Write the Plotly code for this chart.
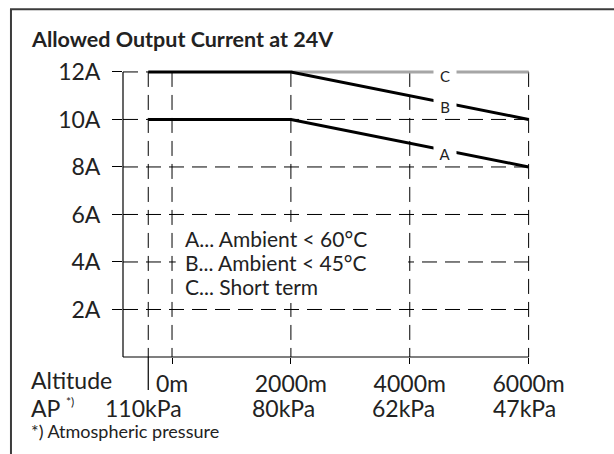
import numpy as np
import plotly.graph_objects as go

# ---------------- data ----------------
altitude_ticks = [0, 2000, 4000, 6000]
altitude_labels = ["0m", "2000m", "4000m", "6000m"]
pressure_labels = ["110kPa", "80kPa", "62kPa", "47kPa"]
current_ticks = [2, 4, 6, 8, 10, 12]
current_labels = ["2A", "4A", "6A", "8A", "10A", "12A"]
grid_x = [-400, 0, 2000, 4000, 6000]
curve_x = [-400, 2000, 6000]
curve_a = [10, 10, 8]
curve_b = [12, 12, 10]
curve_c_x = [2000, 6000]
curve_c = [12, 12]
curve_names = ["A", "B", "C"]
legend_lines = ["A... Ambient < 60°C", "B... Ambient < 45°C", "C... Short term"]
title_text = "Allowed Output Current at 24V"
footnote_text = "*) Atmospheric pressure"

# ---------------- layout constants (pixels) ----------------
W, H = 614, 454
L, R, T, B = 123.35, 530.7, 65.76, 357.0
X_RANGE = [-825, 6040]
Y_RANGE = [0, 12.25]
FONT = "Lato"
TXT = "#222222"
DASH = "15px,8px"


def px_x(p):
    return (p - L) / (R - L)


def px_y(p):
    return (B - p) / (B - T)


fig = go.Figure()

fig.add_trace(go.Scatter(x=curve_c_x, y=curve_c, mode="lines",
                         line=dict(color="#a6a6a6", width=3), hoverinfo="skip"))
fig.add_trace(go.Scatter(x=curve_x, y=curve_b, mode="lines",
                         line=dict(color="black", width=3), hoverinfo="skip"))
fig.add_trace(go.Scatter(x=curve_x, y=curve_a, mode="lines",
                         line=dict(color="black", width=3), hoverinfo="skip"))

shapes = []
# outer frame
shapes.append(dict(type="rect", xref="paper", yref="paper",
                   x0=px_x(11.5), x1=px_x(700), y0=px_y(9), y1=px_y(700),
                   line=dict(color="#3c3c3c", width=2), fillcolor="rgba(0,0,0,0)",
                   layer="below"))
# horizontal dashed grid
for v in current_ticks:
    shapes.append(dict(type="line", xref="x", yref="y", x0=X_RANGE[0], x1=grid_x[-1],
                       y0=v, y1=v, layer="below",
                       line=dict(color="black", width=1, dash=DASH)))
# vertical dashed grid
for g in grid_x:
    shapes.append(dict(type="line", xref="x", yref="y", x0=g, x1=g,
                       y0=current_ticks[-1], y1=0, layer="below",
                       line=dict(color="black", width=1, dash=DASH)))
# axis lines
shapes.append(dict(type="line", xref="paper", yref="y", x0=0, x1=0, y0=0, y1=current_ticks[-1],
                   line=dict(color="black", width=1.2), layer="below"))
shapes.append(dict(type="line", xref="x", yref="paper", x0=X_RANGE[0], x1=grid_x[-1], y0=0, y1=0,
                   line=dict(color="black", width=1.2), layer="below"))
# separator below axis
shapes.append(dict(type="line", xref="x", yref="paper", x0=grid_x[0], x1=grid_x[0],
                   y0=0, y1=px_y(390), line=dict(color="black", width=1.2), layer="below"))
# white box behind legend text
shapes.append(dict(type="rect", xref="paper", yref="paper",
                   x0=px_x(176), x1=px_x(408), y0=px_y(303), y1=px_y(222),
                   line=dict(width=0), fillcolor="white", layer="above"))

ann = []
ann.append(dict(text="<b>" + title_text + "</b>", xref="paper", yref="paper",
                x=px_x(29.5), y=px_y(38.3), xanchor="left", yanchor="middle",
                showarrow=False, font=dict(family=FONT, size=21.5, color=TXT)))
for i, txt in enumerate(legend_lines):
    ann.append(dict(text=txt, xref="paper", yref="paper", x=px_x(183), y=px_y(238 + 24 * i),
                    xanchor="left", yanchor="middle", showarrow=False,
                    font=dict(family=FONT, size=21, color=TXT)))
# curve labels
label_x = 4600
for name, xs, ys in zip(curve_names, [curve_x, curve_x, curve_c_x], [curve_a, curve_b, curve_c]):
    ann.append(dict(text=name, xref="x", yref="y", x=label_x, y=float(np.interp(label_x, xs, ys)),
                    yshift=-4, showarrow=False, bgcolor="white", width=20, height=16, borderpad=1,
                    font=dict(family=FONT, size=15, color=TXT)))
# pressure row
p_shift = [-29, -7, -6, -4]
for xv, lab, sh in zip(altitude_ticks, pressure_labels, p_shift):
    ann.append(dict(text=lab, xref="x", yref="paper", x=xv, xshift=sh, y=px_y(408),
                    xanchor="center", yanchor="middle", showarrow=False,
                    font=dict(family=FONT, size=23, color=TXT)))
ann.append(dict(text="Altitude", xref="paper", yref="paper", x=px_x(29.5), y=px_y(380),
                xanchor="left", yanchor="middle", showarrow=False,
                font=dict(family=FONT, size=23, color=TXT)))
ann.append(dict(text="AP", xref="paper", yref="paper", x=px_x(29.5), y=px_y(408),
                xanchor="left", yanchor="middle", showarrow=False,
                font=dict(family=FONT, size=23, color=TXT)))
ann.append(dict(text="*)", xref="paper", yref="paper", x=px_x(64), y=px_y(402),
                xanchor="left", yanchor="middle", showarrow=False,
                font=dict(family=FONT, size=12, color=TXT)))
ann.append(dict(text=footnote_text, xref="paper", yref="paper", x=px_x(29.5), y=px_y(431),
                xanchor="left", yanchor="middle", showarrow=False,
                font=dict(family=FONT, size=18, color=TXT)))

fig.update_layout(
    width=W, height=H,
    margin=dict(l=L, r=W - R, t=T, b=H - B, pad=0),
    paper_bgcolor="white", plot_bgcolor="white",
    showlegend=False,
    shapes=shapes, annotations=ann,
    xaxis=dict(range=X_RANGE, showgrid=False, zeroline=False, showline=False,
               tickmode="array", tickvals=altitude_ticks, ticktext=altitude_labels,
               ticks="outside", ticklen=6, tickwidth=1.2, tickcolor="black",
               tickfont=dict(family=FONT, size=23, color=TXT), fixedrange=True),
    yaxis=dict(range=Y_RANGE, showgrid=False, zeroline=False, showline=False,
               tickmode="array", tickvals=current_ticks, ticktext=current_labels,
               ticks="outside", ticklen=10, tickwidth=1.2, tickcolor="black",
               ticklabelstandoff=7,
               tickfont=dict(family=FONT, size=23, color=TXT), fixedrange=True),
)

fig.write_html("out.html", config={"displayModeBar": False},
               post_script="document.body.style.margin='0px';")
